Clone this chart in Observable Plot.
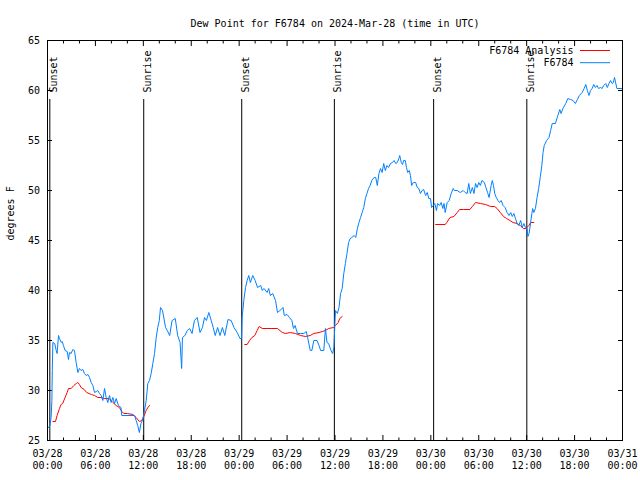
<!DOCTYPE html>
<html><head><meta charset="utf-8">
<script src="https://cdn.jsdelivr.net/npm/d3@7"></script>
<script src="https://cdn.jsdelivr.net/npm/@observablehq/plot@0.6"></script>
<style>body{margin:0;background:#fff}</style>
</head><body><div id="chart"></div>
<script>
const title = "Dew Point for F6784 on 2024-Mar-28 (time in UTC)";
const yLabel = "degrees F";
const startISO = "2024-03-28T00:00:00Z";
const endISO = "2024-03-31T00:00:00Z";
const yTicks = [25, 30, 35, 40, 45, 50, 55, 60, 65];
const seriesNames = ["F6784 Analysis", "F6784"];
const seriesColors = ["#ff0000", "#0080ff"];

// hours after 03/28 00:00 UTC
const stationHours = [0.13,0.3,0.45,0.55,0.6,0.67,0.9,1.09,1.2,1.38,1.5,1.72,1.85,2.0,2.2,2.46,2.63,2.75,2.96,3.17,3.38,3.59,3.8,4.0,4.21,4.42,4.63,4.84,5.05,5.26,5.47,5.68,5.89,6.1,6.3,6.51,6.72,6.93,7.14,7.35,7.55,7.76,7.97,8.18,8.39,8.6,8.89,9.2,9.3,10.9,11.1,11.3,11.5,11.7,11.9,12.15,12.36,12.56,12.77,12.98,13.19,13.4,13.6,13.8,14.0,14.15,14.4,14.78,15.0,15.3,15.6,16.0,16.3,16.6,16.8,16.9,17.2,17.5,17.8,18.1,18.4,18.75,19.1,19.4,19.66,19.9,20.2,20.5,20.75,21.0,21.3,21.6,21.9,22.2,22.6,23.0,23.35,23.75,24.1,24.3,24.37,24.58,24.8,25.0,25.2,25.4,25.7,26.0,26.3,26.7,26.9,27.1,27.5,27.7,27.9,28.2,28.55,28.8,29.1,29.5,29.65,30.0,30.3,30.6,30.8,31.0,31.3,31.7,32.1,32.4,32.6,32.9,33.1,33.35,33.75,34.0,34.2,34.6,34.8,35.0,35.2,35.5,35.7,35.86,36.06,36.3,36.5,36.7,36.9,37.1,37.3,37.5,37.7,37.9,38.1,38.4,38.6,38.8,39.0,39.2,39.4,39.6,39.8,40.0,40.2,40.4,40.6,40.9,41.1,41.3,41.5,41.7,41.9,42.1,42.3,42.5,42.7,42.95,43.2,43.4,43.6,43.8,44.0,44.1,44.3,44.45,44.6,44.8,44.95,45.1,45.3,45.45,45.6,45.8,46.1,46.3,46.5,46.7,46.9,47.1,47.35,47.55,47.75,47.96,48.1,48.3,48.5,48.7,48.85,49.1,49.3,49.5,49.65,49.8,50.05,50.3,50.55,50.8,50.95,51.3,51.7,52.05,52.3,52.55,52.75,52.95,53.2,53.4,53.6,53.8,54.0,54.2,54.4,54.7,54.9,55.1,55.3,55.55,55.7,55.85,56.0,56.2,56.4,56.6,56.8,57.05,57.3,57.55,57.8,58.0,58.2,58.4,58.6,58.8,59.0,59.25,59.45,59.65,59.85,60.05,60.15,60.3,60.5,60.65,60.75,60.9,61.1,61.3,61.5,61.7,61.9,62.05,62.2,62.5,62.8,63.0,63.2,63.6,63.9,64.15,64.3,64.6,64.9,65.15,65.5,65.8,66.1,66.35,66.6,66.95,67.2,67.4,67.6,67.8,68.0,68.2,68.4,68.6,68.8,69.0,69.25,69.45,69.65,69.9,70.1,70.3,70.5,70.7,70.85,71.0,71.3,72.0];
const stationValues = [26.3,26.5,27.3,29.0,32.0,34.8,34.7,34.0,33.7,35.5,35.2,34.8,34.9,34.5,34.0,33.9,33.1,33.8,33.7,34.1,34.0,32.8,31.8,32.2,32.0,32.1,31.7,31.5,31.6,31.3,30.8,30.5,29.8,29.9,30.0,29.7,29.5,29.0,30.2,29.3,28.8,29.5,28.8,29.3,28.7,29.2,28.5,28.3,27.5,27.5,27.0,26.5,25.8,26.7,27.0,28.0,29.0,30.7,31.0,31.7,32.7,33.7,35.2,36.3,37.0,38.3,38.0,36.3,36.0,35.5,37.0,37.2,35.5,34.8,32.2,35.3,35.5,36.0,36.2,35.7,37.0,37.3,35.8,36.3,37.3,37.0,37.8,37.0,36.3,35.5,36.3,35.5,36.3,35.5,37.1,37.0,36.3,35.8,35.2,35.2,37.3,39.0,40.3,41.0,41.5,40.8,41.5,41.0,40.3,40.5,40.0,40.2,39.8,40.2,39.5,39.7,39.0,37.8,38.0,38.3,37.5,37.6,37.3,37.0,36.2,36.5,35.7,35.7,35.7,35.9,35.2,34.0,34.0,35.0,35.0,34.5,34.0,34.0,36.2,34.8,34.7,34.0,33.7,34.3,38.0,37.7,38.3,39.7,40.2,41.7,42.7,43.7,44.8,45.2,45.3,45.5,45.3,46.2,46.8,47.3,47.8,48.3,49.2,49.7,50.2,50.5,51.0,51.3,51.3,50.5,51.7,52.2,51.8,52.7,52.0,52.5,52.3,52.7,52.8,53.0,52.7,52.8,53.2,53.5,52.8,52.6,53.0,53.0,52.3,51.8,52.0,51.5,50.5,50.8,50.8,50.3,50.2,49.7,50.0,50.1,49.5,49.8,49.2,49.2,48.3,48.5,48.7,48.0,48.7,48.5,48.8,48.2,48.7,47.8,48.8,49.0,49.7,50.2,50.0,50.0,49.8,50.0,49.8,49.7,50.7,49.7,50.3,49.7,50.7,50.3,50.8,50.5,51.0,50.8,50.3,49.8,49.3,50.5,51.0,50.5,49.7,49.3,49.0,48.8,49.0,48.5,48.3,47.8,47.5,47.8,47.4,47.7,47.2,46.7,46.5,47.0,46.3,46.7,46.3,46.2,45.4,45.7,46.8,47.7,48.2,47.8,48.2,49.3,50.2,51.3,52.5,53.8,54.5,55.0,55.3,56.0,56.7,56.7,57.5,58.1,57.7,58.3,58.7,59.2,59.1,59.0,58.7,59.1,59.5,59.8,60.2,60.6,60.0,59.5,60.0,60.2,60.6,60.3,60.5,60.2,60.3,60.2,60.5,60.7,60.3,60.7,61.0,60.7,60.8,61.3,60.2,60.2];

// analysis series; null values mark gaps between segments
const analysisHours = [0.67,1.0,1.2,1.5,1.7,1.9,2.2,2.46,2.63,2.96,3.3,3.6,3.8,4.0,4.2,4.6,4.9,5.5,5.9,6.3,6.7,7.1,7.7,8.2,8.6,9.0,9.3,9.55,10.0,10.7,11.1,11.5,11.8,12.06,12.35,12.65,12.8,18.0,24.7,25.0,25.3,25.6,25.96,26.25,26.5,26.9,27.5,28.1,28.8,29.4,29.8,30.4,31.05,31.7,32.3,32.9,33.35,34.0,34.4,34.8,35.2,35.8,36.06,36.4,36.6,36.9,42.0,48.6,49.8,50.0,50.4,50.9,51.3,51.6,52.1,52.9,53.2,53.6,54.2,54.85,55.5,56.0,56.3,56.7,57.1,57.5,57.9,58.3,58.8,59.2,59.6,59.9,60.27,60.5,60.9];
const analysisValues = [26.9,26.9,27.5,28.2,28.6,28.7,29.3,29.8,30.2,30.2,30.5,30.7,30.8,30.6,30.3,30.1,29.8,29.6,29.5,29.3,29.3,29.2,29.2,28.8,28.5,28.3,27.9,27.7,27.7,27.6,27.3,26.9,27.0,27.4,28.0,28.4,28.5,null,34.6,34.6,35.0,35.3,35.5,36.0,36.4,36.2,36.2,36.2,36.2,35.8,35.7,35.8,35.7,35.5,35.4,35.5,35.7,35.8,35.9,36.0,36.2,36.3,36.5,36.8,37.2,37.4,null,46.6,46.6,46.8,47.3,47.4,47.8,48.1,48.1,48.1,48.4,48.8,48.7,48.6,48.4,48.4,48.2,47.8,47.4,47.2,47.0,46.8,46.7,46.5,46.2,46.2,46.5,46.8,46.8];

const eventHours = [0.29, 12.05, 24.32, 35.92, 48.35, 60.02];
const eventLabels = ["Sunset", "Sunrise", "Sunset", "Sunrise", "Sunset", "Sunrise"];

const t0 = new Date(startISO), t1 = new Date(endISO);
const toDate = h => new Date(+t0 + h * 3600e3);
const station = stationHours.map((h, i) => ({t: toDate(h), v: stationValues[i]}));
const analysis = analysisHours.map((h, i) => ({t: toDate(h), v: analysisValues[i]}));
const events = eventHours.map((h, i) => ({t: toDate(h), label: eventLabels[i]}));
const majorTicks = d3.utcHour.every(6).range(t0, new Date(+t1 + 1));
const minorTicks = d3.utcHour.every(2).range(t0, new Date(+t1 + 1)).filter(d => d.getUTCHours() % 6 !== 0);
const fmt = d3.utcFormat("%m/%d\n%H:%M");

function legend(index, scales, values, dims) {
  const g = d3.create("svg:g");
  const xr = dims.width - dims.marginRight;
  seriesNames.forEach((name, i) => {
    const y = dims.marginTop + 10.5 + i * 12.2;
    g.append("text").attr("x", xr - 48.5).attr("y", y).attr("dy", "0.32em")
      .attr("text-anchor", "end").attr("fill", "black").text(name);
    g.append("line").attr("x1", xr - 42).attr("x2", xr - 12).attr("y1", y).attr("y2", y)
      .attr("stroke", seriesColors[i]).attr("stroke-width", 1);
  });
  return g.node();
}

const chart = Plot.plot({
  width: 640, height: 480,
  marginLeft: 47, marginRight: 18, marginTop: 40, marginBottom: 40,
  style: {fontFamily: "DejaVu Sans Mono", fontSize: "10px", background: "white", color: "black", overflow: "visible"},
  x: {type: "utc", domain: [t0, t1]},
  y: {domain: [25, 65]},
  marks: [
    Plot.axisX(majorTicks, {anchor: "bottom", tickSize: -5, fill: "none", label: null}),
    Plot.axisX(majorTicks, {anchor: "top", tickSize: -5, fill: "none", label: null}),
    Plot.axisX(minorTicks, {anchor: "bottom", tickSize: -2.5, fill: "none", label: null}),
    Plot.axisX(minorTicks, {anchor: "top", tickSize: -2.5, fill: "none", label: null}),
    Plot.axisX(majorTicks, {anchor: "bottom", tickSize: 0, tickPadding: 7.5, tickFormat: fmt, lineHeight: 1.2, label: null}),
    Plot.axisY(yTicks, {anchor: "left", tickSize: -5, fill: "none", label: null}),
    Plot.axisY(yTicks, {anchor: "right", tickSize: -5, fill: "none", label: null}),
    Plot.axisY(yTicks, {anchor: "left", tickSize: 0, tickPadding: 7.5, label: null}),
    Plot.ruleX(events, {x: "t", insetTop: 59, stroke: "black", strokeWidth: 1}),
    Plot.text(events, {x: "t", text: "label", frameAnchor: "top", dy: 52, rotate: -90, textAnchor: "start", fill: "black"}),
    Plot.line(analysis, {x: "t", y: "v", stroke: seriesColors[0], strokeWidth: 1}),
    Plot.line(station, {x: "t", y: "v", stroke: seriesColors[1], strokeWidth: 1}),
    Plot.frame({stroke: "black"}),
    legend,
    Plot.text([title], {frameAnchor: "top", dy: -21, fill: "black"}),
    Plot.text([yLabel], {frameAnchor: "left", dx: -37, rotate: -90, fill: "black"})
  ]
});
document.getElementById("chart").append(chart);
</script>
</body></html>
